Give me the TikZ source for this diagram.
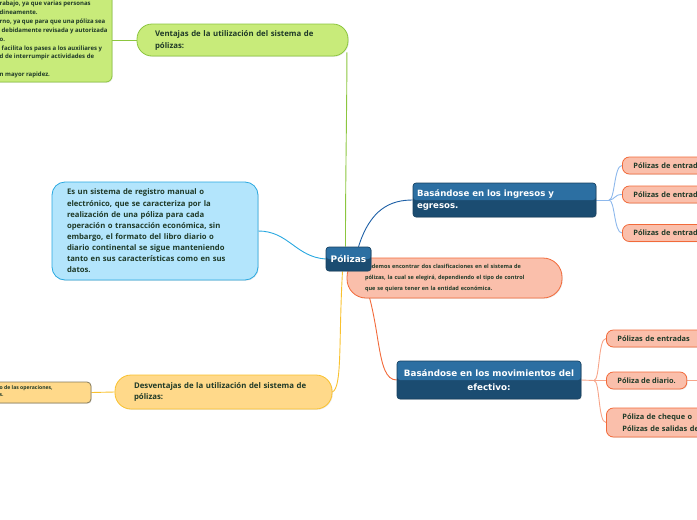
\documentclass[tikz,border=0pt]{standalone}
\usepackage{fontspec}
\setmainfont{Open Sans}
\newfontfamily\vfont{DejaVu Sans}
\usetikzlibrary{shadows}
\definecolor{grnfill}{HTML}{C8EB7A}
\definecolor{grnline}{HTML}{8CC63F}
\definecolor{bluefill}{HTML}{B3E5FC}
\definecolor{blueline}{HTML}{29A8E0}
\definecolor{navytop}{HTML}{2C6FA2}
\definecolor{navybot}{HTML}{1B4C71}
\definecolor{navyline}{HTML}{16405F}
\definecolor{salfill}{HTML}{FABFAB}
\definecolor{salline}{HTML}{F26A3A}
\definecolor{yelfill}{HTML}{FFD98A}
\definecolor{yelline}{HTML}{F9C12E}
\definecolor{darktext}{HTML}{1F3A28}
\definecolor{connblue}{HTML}{1D5FA6}
\definecolor{connlight}{HTML}{8DB8EC}
\definecolor{connsal}{HTML}{F7A489}
\definecolor{grayline}{HTML}{857A5A}
\pgfdeclarelayer{bg}
\pgfsetlayers{bg,main}
\begin{document}
\begin{tikzpicture}[x=1pt,y=-1pt,
  shad/.style={drop shadow={opacity=0.18,shadow xshift=0.8pt,shadow yshift=-0.8pt}},
  notebox/.style={draw,line width=0.8pt,shad,font=\bfseries,align=left,inner ysep=0pt},
  navybox/.style={draw=navyline,fill=navybot,rounded corners=3pt,line width=0.6pt,shad,
    path picture={\fill[navytop] (path picture bounding box.north west) rectangle (path picture bounding box.east);},
    text=white,font=\vfont\bfseries,inner ysep=0pt},
  leafbox/.style={draw=salline,fill=salfill,line width=0.8pt,rounded corners=7pt,shad,
    text=darktext,font=\bfseries\fontsize{7.4}{11}\selectfont,align=left,minimum height=17pt,inner ysep=0pt,inner xsep=11pt,anchor=west},
  conn/.style={line width=0.9pt}
]
\useasboundingbox (0,0) rectangle (697,520);
\clip (0,0) rectangle (697,520);

% top-left green note
\node[notebox,draw=grnline,fill=grnfill,rounded corners=6pt,minimum width=152pt,minimum height=102pt] (gtl) at (36,31) {};
\node[anchor=north west,inner sep=0pt,font=\bfseries\fontsize{6}{8.85}\selectfont,align=left,text=darktext] (gtltext) at (-0.5,1)
 {rabajo, ya que varias personas\\
  dineamente.\\
  rno, ya que para que una póliza sea\\
  \hspace*{2pt}debidamente revisada y autorizada\\
  o.\\
  \hspace*{2pt}facilita los pases a los auxiliares y\\
  d de interrumpir actividades de\\
  \mbox{}\\
  n mayor rapidez.};

% Ventajas
\node[notebox,draw=grnline,fill=grnfill,rounded corners=15pt,minimum width=211pt,minimum height=32pt,
  text width=175pt,inner xsep=18pt,font=\bfseries\fontsize{7.8}{12}\selectfont,text=darktext] (vent) at (242.5,40)
 {Ventajas de la utilización del sistema de\\pólizas:};

% blue note
\node[notebox,draw=blueline,fill=bluefill,rounded corners=13pt,minimum width=206pt,minimum height=98pt,
  text width=176pt,inner xsep=15pt,font=\bfseries\fontsize{7.7}{11.15}\selectfont,text=darktext] (note) at (155,231)
 {Es un sistema de registro manual o\\
  electrónico, que se caracteriza por la\\
  realización de una póliza para cada\\
  operación o transacción económica, sin\\
  embargo, el formato del libro diario o\\
  diario continental se sigue manteniendo\\
  tanto en sus características como en sus\\
  datos.};

% orange note
\node[notebox,draw=salline,fill=salfill,rounded corners=19pt,minimum width=215pt,minimum height=40pt,
  text width=179pt,inner xsep=18pt,font=\bfseries\fontsize{5.55}{10.6}\selectfont,text=darktext] (obs) at (454.5,278)
 {Podemos encontrar dos clasificaciones en el sistema de\\
  pólizas, la cual se elegirá, dependiendo el tipo de control\\
  que se quiera tener en la entidad económica.};

% central node
\node[navybox,minimum width=45pt,minimum height=24pt,font=\vfont\bfseries\fontsize{9}{11}\selectfont] (pol) at (348.5,259) {Pólizas};

% ingresos
\node[navybox,minimum width=183pt,minimum height=34pt,text width=175pt,inner xsep=4pt,align=left,
  font=\vfont\bfseries\fontsize{8.6}{12}\selectfont] (ing) at (504.5,200) {Basándose en los ingresos y\\egresos.};

% movimientos
\node[navybox,minimum width=184pt,minimum height=38pt,text width=178pt,inner xsep=3pt,align=center,
  font=\vfont\bfseries\fontsize{8.75}{14}\selectfont] (mov) at (489,380) {Basándose en los movimientos del\\efectivo:};

% desventajas
\node[notebox,draw=yelline,fill=yelfill,rounded corners=16pt,minimum width=217pt,minimum height=34pt,
  text width=179pt,inner xsep=19pt,font=\bfseries\fontsize{7.8}{11.5}\selectfont,text=darktext] (desv) at (223.5,392)
 {Desventajas de la utilización del sistema de\\pólizas:};

% left yellow note
\node[notebox,draw=grayline,fill=yelfill,rounded corners=4pt,minimum width=131pt,minimum height=21pt] (lyel) at (25.5,392.5) {};
\node[anchor=north west,inner sep=0pt,font=\bfseries\fontsize{5.1}{7}\selectfont,align=left,text=darktext] (lyeltext) at (-0.5,385.5)
 {o de las operaciones,\\s.};

% ingresos leaves
\node[leafbox,minimum width=130pt,text width=108pt] (i1) at (622,165.5) {Pólizas de entradas};
\node[leafbox,minimum width=130pt,text width=108pt] (i2) at (622,194.5) {Pólizas de entradas};
\node[leafbox,minimum width=130pt,text width=108pt] (i3) at (622,233) {Pólizas de entradas};

% movimientos leaves
\node[leafbox,minimum width=130pt,text width=108pt] (m1) at (606,338.5) {Pólizas de entradas};
\node[leafbox] (m2) at (606,380.5) {Póliza de diario.};
\node[leafbox,minimum height=29pt,minimum width=140pt,text width=110pt,inner xsep=16pt,font=\bfseries\fontsize{7.4}{12}\selectfont] (m3) at (606,422.5) {Póliza de cheque o\\Pólizas de salidas de};

\coordinate (ib) at (609,200);
\coordinate (mb) at (594,380.5);
\coordinate (offr) at (700,380.5);
\coordinate (ventend) at ([xshift=-1.5pt,yshift=4pt]vent.south east);

\begin{pgfonlayer}{bg}
  \draw[conn,grnline] (gtl.east |- vent.west) -- (vent.west);
  \draw[conn,grnline] ([xshift=-3pt]pol.north) .. controls +(0,-80) and +(0,60) .. (ventend);
  \draw[conn,blueline] (pol.west) .. controls +(-30,-2) and +(30,0) .. (note.east);
  \draw[conn,connblue] ([xshift=10pt]pol.north) .. controls +(12,-38) and +(-22,0) .. (ing.west);
  \draw[conn,salline] ([xshift=12pt]pol.south) .. controls +(22,50) and +(-22,0) .. (mov.west);
  \draw[conn,yelline] ([xshift=-6pt]pol.south) .. controls +(-4,70) and +(10,-5) .. (desv.east);
  \draw[conn,yelline] (desv.west) -- (lyel.east);
  \draw[conn,connlight] (ing.east) -- (ib);
  \draw[conn,connlight] (ib) .. controls +(6,0) and +(-8,0) .. (i1.west);
  \draw[conn,connlight] (ib) .. controls +(6,0) and +(-8,0) .. (i2.west);
  \draw[conn,connlight] (ib) .. controls +(6,0) and +(-8,0) .. (i3.west);
  \draw[conn,connsal] (mov.east) -- (mb);
  \draw[conn,connsal] (mb) .. controls +(6,0) and +(-8,0) .. (m1.west);
  \draw[conn,connsal] (mb) -- (m2.west);
  \draw[conn,connsal] (mb) .. controls +(6,0) and +(-8,0) .. (m3.west);
  \draw[conn,connsal] (m2.east) -- (offr);
\end{pgfonlayer}
\end{tikzpicture}
\end{document}
